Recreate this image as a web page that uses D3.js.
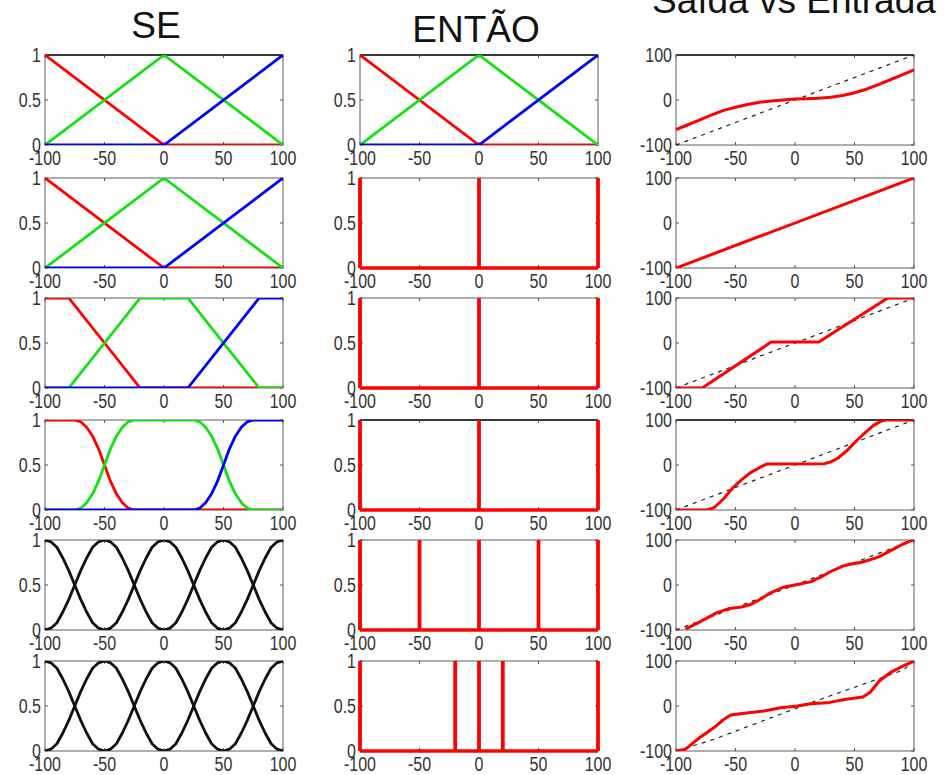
<!DOCTYPE html>
<html>
<head>
<meta charset="utf-8">
<script src="https://cdn.jsdelivr.net/npm/d3@7/dist/d3.min.js"></script>
<style>
  body { margin: 0; background: #fff; }
  svg { display: block; }
</style>
</head>
<body>
<div id="chart"></div>
<script>
// ---- ticks / titles
const xTicks = [-100, -50, 0, 50, 100];
const mfTicks = [0, 0.5, 1];
const outTicks = [-100, 0, 100];
const colTitles = ["SE", "ENTÃO", "Saída vs Entrada"];

// ---- membership functions (x, grau)
const triRed = [[-100, 1], [0, 0], [100, 0]];
const triGreen = [[-100, 0], [0, 1], [100, 0]];
const triBlue = [[-100, 0], [0, 0], [100, 1]];

const trapRed = [[-100, 1], [-80, 1], [-20, 0], [100, 0]];
const trapGreen = [[-100, 0], [-80, 0], [-20, 1], [20, 1], [80, 0], [100, 0]];
const trapBlue = [[-100, 0], [20, 0], [80, 1], [100, 1]];

const smoothRed = [[-100, 1], [-75, 1], [-70, 0.98], [-65, 0.92], [-60, 0.82], [-55, 0.68], [-50, 0.5],
  [-45, 0.32], [-40, 0.18], [-35, 0.08], [-30, 0.02], [-25, 0], [100, 0]];
const smoothGreen = [[-100, 0], [-75, 0], [-70, 0.02], [-65, 0.08], [-60, 0.18], [-55, 0.32], [-50, 0.5],
  [-45, 0.68], [-40, 0.82], [-35, 0.92], [-30, 0.98], [-25, 1], [25, 1], [30, 0.98], [35, 0.92],
  [40, 0.82], [45, 0.68], [50, 0.5], [55, 0.32], [60, 0.18], [65, 0.08], [70, 0.02], [75, 0], [100, 0]];
const smoothBlue = [[-100, 0], [25, 0], [30, 0.02], [35, 0.08], [40, 0.18], [45, 0.32], [50, 0.5],
  [55, 0.68], [60, 0.82], [65, 0.92], [70, 0.98], [75, 1], [100, 1]];

const bumpM100 = [[-100, 1], [-95, 0.98], [-90, 0.92], [-85, 0.8], [-80, 0.66], [-75, 0.5],
  [-70, 0.34], [-65, 0.2], [-60, 0.08], [-55, 0.02], [-50, 0]];
const bumpM50 = [[-100, 0], [-95, 0.02], [-90, 0.08], [-85, 0.2], [-80, 0.34], [-75, 0.5], [-70, 0.66],
  [-65, 0.8], [-60, 0.92], [-55, 0.98], [-50, 1], [-45, 0.98], [-40, 0.92], [-35, 0.8], [-30, 0.66],
  [-25, 0.5], [-20, 0.34], [-15, 0.2], [-10, 0.08], [-5, 0.02], [0, 0]];
const bump0 = [[-50, 0], [-45, 0.02], [-40, 0.08], [-35, 0.2], [-30, 0.34], [-25, 0.5], [-20, 0.66],
  [-15, 0.8], [-10, 0.92], [-5, 0.98], [0, 1], [5, 0.98], [10, 0.92], [15, 0.8], [20, 0.66],
  [25, 0.5], [30, 0.34], [35, 0.2], [40, 0.08], [45, 0.02], [50, 0]];
const bumpP50 = [[0, 0], [5, 0.02], [10, 0.08], [15, 0.2], [20, 0.34], [25, 0.5], [30, 0.66],
  [35, 0.8], [40, 0.92], [45, 0.98], [50, 1], [55, 0.98], [60, 0.92], [65, 0.8], [70, 0.66],
  [75, 0.5], [80, 0.34], [85, 0.2], [90, 0.08], [95, 0.02], [100, 0]];
const bumpP100 = [[50, 0], [55, 0.02], [60, 0.08], [65, 0.2], [70, 0.34], [75, 0.5], [80, 0.66],
  [85, 0.8], [90, 0.92], [95, 0.98], [100, 1]];

// ---- singletons of ENTÃO
const singRow2 = [-100, 0, 100];
const singRow5 = [-100, -50, 0, 50, 100];
const singRow6 = [-100, -20, 0, 20, 100];

// ---- Saída vs Entrada
const outRow1 = [[-100, -66], [-90, -55], [-80, -44], [-70, -33], [-60, -23], [-50, -16], [-40, -10],
  [-30, -5], [-20, -2], [-10, 0], [0, 2], [10, 3], [20, 4], [30, 6], [40, 10], [50, 16], [60, 24],
  [70, 34], [80, 45], [90, 56], [100, 67]];
const outRow2 = [[-100, -100], [100, 100]];
const outRow3 = [[-100, -100], [-78, -100], [-20, 2], [20, 2], [78, 100], [100, 100]];
const outRow4 = [[-100, -100], [-74, -100], [-68, -95], [-60, -75], [-52, -50], [-45, -33], [-38, -18],
  [-30, -6], [-24, 2], [25, 3], [30, 7], [36, 15], [44, 33], [52, 55], [60, 74], [66, 88], [72, 97],
  [76, 100], [100, 100]];
const outRow5 = [[-92, -98], [-80, -82], [-66, -62], [-55, -52], [-45, -49], [-38, -44], [-30, -33],
  [-21, -18], [-10, -5], [0, 0], [13, 7], [22, 18], [30, 30], [40, 42], [46, 46], [55, 50], [63, 56],
  [70, 62], [80, 76], [90, 90], [97, 98], [100, 100]];
const outRow6 = [[-100, -100], [-92, -96], [-80, -70], [-68, -48], [-60, -30], [-54, -20], [-46, -17],
  [-26, -11], [-12, -4], [2, 0], [13, 5], [27, 7], [43, 15], [57, 20], [63, 30], [71, 56], [80, 74],
  [91, 89], [100, 100]];
const refDiag = [[-100, -100], [100, 100]];
const refRow6 = [[-100, -100], [-68, -74], [13, 7], [91, 80], [100, 100]];

const rows = [
  { se: [["r", triRed], ["g", triGreen], ["b", triBlue]], thenMf: [["r", triRed], ["g", triGreen], ["b", triBlue]], out: outRow1, ref: refDiag },
  { se: [["r", triRed], ["g", triGreen], ["b", triBlue]], sing: singRow2, out: outRow2, ref: refDiag },
  { se: [["r", trapRed], ["g", trapGreen], ["b", trapBlue]], sing: singRow2, out: outRow3, ref: refDiag },
  { se: [["r", smoothRed], ["g", smoothGreen], ["b", smoothBlue]], sing: singRow2, out: outRow4, ref: refDiag },
  { se: [["k", bumpM100], ["k", bumpM50], ["k", bump0], ["k", bumpP50], ["k", bumpP100]], sing: singRow5, out: outRow5, ref: refDiag },
  { se: [["k", bumpM100], ["k", bumpM50], ["k", bump0], ["k", bumpP50], ["k", bumpP100]], sing: singRow6, out: outRow6, ref: refRow6 },
];

// ---- layout
const W = 947, H = 775;
const colX = [45, 360, 676];
const rowY = [55, 178, 298, 420, 540, 661];
const pw = 238, ph = 90;
const colors = { r: "#ff0000", g: "#14e014", b: "#0000ff", k: "#111111" };
const darkTop = ["0-0", "0-1", "0-2", "3-1", "3-2"];
const FONT = "'Liberation Sans', Arial, sans-serif";

const svg = d3.select("#chart").append("svg")
  .attr("width", W).attr("height", H)
  .attr("viewBox", `0 0 ${W} ${H}`);

const x = d3.scaleLinear().domain([-100, 100]).range([0, pw]);
const yMf = d3.scaleLinear().domain([0, 1]).range([ph, 0]);
const yOut = d3.scaleLinear().domain([-100, 100]).range([ph, 0]);

function label(g, tx, ty, txt, anchor) {
  g.append("text")
    .attr("transform", `translate(${tx},${ty}) scale(0.8,1)`)
    .attr("text-anchor", anchor)
    .style("font-family", FONT)
    .style("font-size", "20px")
    .style("fill", "#333")
    .text(txt);
}

function frame(g, y, yTicks, key) {
  g.append("rect").attr("width", pw).attr("height", ph)
    .attr("fill", "none").attr("stroke", "#7a7a7a").attr("stroke-width", 1.2);
  if (darkTop.includes(key)) {
    g.append("line").attr("x1", 0).attr("x2", pw).attr("y1", 0).attr("y2", 0)
      .attr("stroke", "#111").attr("stroke-width", 1.6);
  }
  xTicks.forEach((t) => {
    g.append("line").attr("x1", x(t)).attr("x2", x(t)).attr("y1", ph).attr("y2", ph - 3).attr("stroke", "#555");
    g.append("line").attr("x1", x(t)).attr("x2", x(t)).attr("y1", 0).attr("y2", 3).attr("stroke", "#555");
    label(g, x(t), ph + 20, t, "middle");
  });
  yTicks.forEach((t) => {
    g.append("line").attr("x1", 0).attr("x2", 3).attr("y1", y(t)).attr("y2", y(t)).attr("stroke", "#555");
    g.append("line").attr("x1", pw).attr("x2", pw - 3).attr("y1", y(t)).attr("y2", y(t)).attr("stroke", "#555");
    label(g, -4, y(t) + 7, t, "end");
  });
}

let clipId = 0;
function clipped(g) {
  const id = "clip" + clipId++;
  g.append("clipPath").attr("id", id).append("rect")
    .attr("x", 0).attr("y", 0).attr("width", pw).attr("height", ph);
  return g.append("g").attr("clip-path", `url(#${id})`);
}

const lineMf = d3.line().x((d) => x(d[0])).y((d) => yMf(d[1]));
const lineOut = d3.line().x((d) => x(d[0])).y((d) => yOut(d[1]));

// titles
svg.append("text").attr("x", 156).attr("y", 38).attr("text-anchor", "middle")
  .style("font-family", FONT).style("font-size", "37px").style("fill", "#111").text(colTitles[0]);
svg.append("text").attr("x", 476).attr("y", 42).attr("text-anchor", "middle")
  .style("font-family", FONT).style("font-size", "37px").style("fill", "#111").text(colTitles[1]);
svg.append("text").attr("x", 652).attr("y", 13).attr("text-anchor", "start")
  .style("font-family", FONT).style("font-size", "37px").style("fill", "#111").text(colTitles[2]);

rows.forEach((row, i) => {
  // SE
  const g1 = svg.append("g").attr("transform", `translate(${colX[0]},${rowY[i]})`);
  frame(g1, yMf, mfTicks, `${i}-0`);
  const c1 = clipped(g1);
  row.se.forEach(([c, pts]) => {
    c1.append("path").attr("d", lineMf(pts)).attr("fill", "none")
      .attr("stroke", colors[c]).attr("stroke-width", 2.8).attr("stroke-linejoin", "round");
  });

  // ENTÃO
  const g2 = svg.append("g").attr("transform", `translate(${colX[1]},${rowY[i]})`);
  frame(g2, yMf, mfTicks, `${i}-1`);
  if (row.thenMf) {
    const c2 = clipped(g2);
    row.thenMf.forEach(([c, pts]) => {
      c2.append("path").attr("d", lineMf(pts)).attr("fill", "none")
        .attr("stroke", colors[c]).attr("stroke-width", 2.8).attr("stroke-linejoin", "round");
    });
  } else {
    g2.append("line").attr("x1", x(-100)).attr("x2", x(100)).attr("y1", yMf(0)).attr("y2", yMf(0))
      .attr("stroke", colors.r).attr("stroke-width", 3.5);
    g2.selectAll("line.sing").data(row.sing).enter().append("line")
      .attr("class", "sing")
      .attr("x1", (d) => x(d)).attr("x2", (d) => x(d))
      .attr("y1", yMf(0)).attr("y2", yMf(1))
      .attr("stroke", colors.r).attr("stroke-width", 3.8);
  }

  // Saída vs Entrada
  const g3 = svg.append("g").attr("transform", `translate(${colX[2]},${rowY[i]})`);
  frame(g3, yOut, outTicks, `${i}-2`);
  const c3 = clipped(g3);
  c3.append("path").attr("d", lineOut(row.ref)).attr("fill", "none")
    .attr("stroke", "#222").attr("stroke-width", 1.2).attr("stroke-dasharray", "4,5");
  c3.append("path").attr("d", lineOut(row.out)).attr("fill", "none")
    .attr("stroke", colors.r).attr("stroke-width", 3).attr("stroke-linejoin", "round");
});
</script>
</body>
</html>
